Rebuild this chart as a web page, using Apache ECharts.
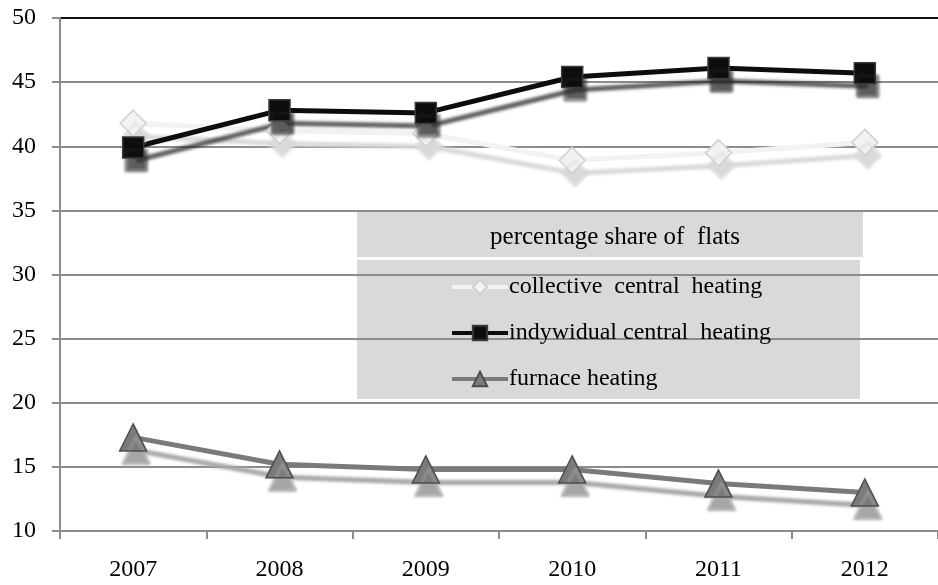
<!DOCTYPE html>
<html>
<head>
<meta charset="utf-8">
<script src="https://cdn.jsdelivr.net/npm/echarts@6/dist/echarts.min.js"></script>
<style>html,body{margin:0;padding:0;background:#fff;}#c{width:938px;height:585px;}</style>
</head>
<body>
<div id="c"></div>
<script>
var years = ['2007', '2008', '2009', '2010', '2011', '2012'];
var collective = [41.8, 41.2, 41.0, 38.9, 39.5, 40.3];
var indywidual = [39.9, 42.8, 42.6, 45.4, 46.1, 45.7];
var furnace = [17.3, 15.2, 14.8, 14.8, 13.7, 13.0];
var yTicks = { min: 10, max: 50, interval: 5 };
var seriesNames = ['collective  central  heating', 'indywidual central  heating', 'furnace heating'];
var legendTitle = 'percentage share of  flats';

var FONT = '"Liberation Serif", "Times New Roman", serif';
var chart = echarts.init(document.getElementById('c'), null, { renderer: 'canvas' });

function mkSeries(name, data, color, border, shadow, symbol, size) {
  return {
    name: name, type: 'line', data: data,
    symbol: symbol, symbolSize: size,
    lineStyle: { color: color, width: 5, shadowColor: shadow, shadowOffsetX: 3, shadowOffsetY: 13, shadowBlur: 3 },
    itemStyle: { color: color, borderColor: border, borderWidth: 1.5, shadowColor: shadow, shadowOffsetX: 3, shadowOffsetY: 13, shadowBlur: 3 },
    emphasis: { disabled: true },
    animation: false
  };
}

var splitColors = [];
for (var v = yTicks.min; v <= yTicks.max; v += yTicks.interval) {
  splitColors.push(v === yTicks.max ? '#111' : '#8c8c8c');
}

chart.setOption({
  animation: false,
  backgroundColor: '#fff',
  grid: { left: 60, right: -10, top: 18, bottom: 54, containLabel: false },
  title: {
    text: legendTitle, left: 610, top: 220, textAlign: 'center',
    textStyle: { fontFamily: FONT, fontSize: 25, fontWeight: 'normal', color: '#000' }
  },
  graphic: [
    { type: 'rect', z: -1, zlevel: 0, shape: { x: 357, y: 212, width: 506, height: 45 }, style: { fill: '#d9d9d9' } },
    { type: 'rect', z: -1, zlevel: 0, shape: { x: 357, y: 260, width: 503, height: 139 }, style: { fill: '#d9d9d9' } }
  ],
  legend: {
    orient: 'vertical', left: 445, top: 269,
    itemWidth: 56, itemHeight: 18, itemGap: 20,
    data: seriesNames,
    textStyle: { fontFamily: FONT, fontSize: 24, color: '#000', lineHeight: 26, padding: [0, 0, 0, -4] },
    lineStyle: { shadowColor: 'transparent', shadowBlur: 0, shadowOffsetX: 0, shadowOffsetY: 0, width: 4 },
    itemStyle: { shadowColor: 'transparent', shadowBlur: 0, shadowOffsetX: 0, shadowOffsetY: 0 }
  },
  xAxis: {
    type: 'category', data: years, boundaryGap: true,
    axisLine: { lineStyle: { color: '#8c8c8c', width: 2 } },
    axisTick: { show: true, length: 8, inside: false, lineStyle: { color: '#8c8c8c', width: 2 } },
    axisLabel: { fontFamily: FONT, fontSize: 24, color: '#000', margin: 27 },
    splitLine: { show: false }
  },
  yAxis: {
    type: 'value', min: yTicks.min, max: yTicks.max, interval: yTicks.interval,
    axisLine: { show: true, lineStyle: { color: '#8c8c8c', width: 2 } },
    axisTick: { show: true, length: 8, lineStyle: { color: '#8c8c8c', width: 2 } },
    axisLabel: { fontFamily: FONT, fontSize: 24, color: '#000', margin: 24 },
    splitLine: { show: true, lineStyle: { color: splitColors, width: 2 } }
  },
  series: [
    mkSeries(seriesNames[0], collective, '#f2f2f2', '#d0d0d0', '#d9d9d9', 'diamond', 26),
    mkSeries(seriesNames[1], indywidual, '#0d0d0d', '#3a3a3a', 'rgba(40,40,40,0.75)', 'rect', 21),
    mkSeries(seriesNames[2], furnace, '#7a7a7a', '#4d4d4d', '#a6a6a6', 'triangle', 27)
  ]
});
</script>
</body>
</html>
